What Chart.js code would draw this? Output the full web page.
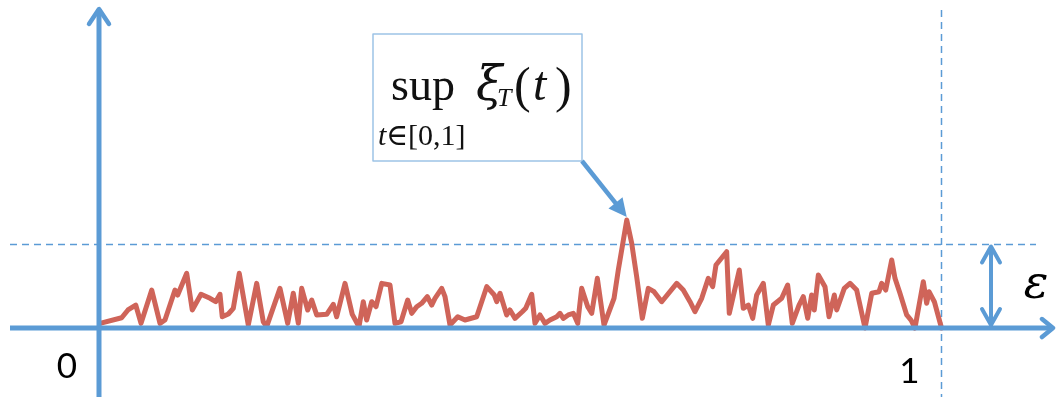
<!DOCTYPE html>
<html>
<head>
<meta charset="utf-8">
<script src="https://cdn.jsdelivr.net/npm/chart.js@4/dist/chart.umd.min.js"></script>
<style>
  html, body { margin: 0; padding: 0; background: #ffffff; overflow: hidden; }
  canvas { display: block; }
</style>
</head>
<body>
<canvas id="c" width="1056" height="397"></canvas>
<script>
// Sample path of the process xi_T(t) on t in [0, 1]
const t = [
  0.0012, 0.0269, 0.0344, 0.0436, 0.0499, 0.0626, 0.0724, 0.0783, 0.0902, 0.0934,
  0.1041, 0.1107, 0.1211, 0.1318, 0.1385, 0.1436, 0.1463, 0.1535, 0.1594, 0.1665,
  0.1772, 0.1872, 0.1950, 0.1990, 0.2148, 0.2240, 0.2306, 0.2366, 0.2406, 0.2477,
  0.2525, 0.2584, 0.2703, 0.2781, 0.2821, 0.2920, 0.3006, 0.3086, 0.3137, 0.3177,
  0.3237, 0.3288, 0.3356, 0.3454, 0.3513, 0.3585, 0.3664, 0.3712, 0.3771, 0.3830,
  0.3897, 0.3949, 0.3988, 0.4068, 0.4107, 0.4166, 0.4258, 0.4344, 0.4483, 0.4602,
  0.4692, 0.4721, 0.4760, 0.4839, 0.4878, 0.4938, 0.5024, 0.5065, 0.5136, 0.5175,
  0.5234, 0.5294, 0.5353, 0.5433, 0.5472, 0.5511, 0.5570, 0.5630, 0.5682, 0.5729,
  0.5801, 0.5848, 0.5915, 0.5994, 0.6113, 0.6164, 0.6264, 0.6323, 0.6382, 0.6449,
  0.6520, 0.6588, 0.6679, 0.6857, 0.6935, 0.7015, 0.7074, 0.7154, 0.7232, 0.7284,
  0.7323, 0.7450, 0.7481, 0.7600, 0.7647, 0.7707, 0.7759, 0.7806, 0.7885, 0.7944,
  0.8004, 0.8103, 0.8174, 0.8229, 0.8309, 0.8360, 0.8412, 0.8459, 0.8490, 0.8538,
  0.8617, 0.8665, 0.8728, 0.8756, 0.8846, 0.8914, 0.8993, 0.9092, 0.9172, 0.9258,
  0.9290, 0.9338, 0.9409, 0.9448, 0.9507, 0.9587, 0.9638, 0.9685, 0.9784, 0.9824,
  0.9852, 0.9915, 1.0000
];
const xi = [
  0.056, 0.123, 0.216, 0.275, 0.056, 0.455, 0.056, 0.096, 0.455, 0.395,
  0.655, 0.216, 0.404, 0.356, 0.315, 0.404, 0.135, 0.168, 0.236, 0.655,
  0.036, 0.535, 0.075, 0.016, 0.475, 0.056, 0.416, 0.056, 0.475, 0.216,
  0.335, 0.156, 0.164, 0.284, 0.135, 0.535, 0.164, 0.016, 0.315, 0.096,
  0.315, 0.255, 0.535, 0.515, 0.056, 0.075, 0.335, 0.176, 0.255, 0.296,
  0.375, 0.275, 0.356, 0.475, 0.375, 0.036, 0.135, 0.096, 0.135, 0.495,
  0.395, 0.315, 0.416, 0.156, 0.216, 0.116, 0.195, 0.236, 0.404, 0.056,
  0.156, 0.056, 0.096, 0.135, 0.176, 0.116, 0.156, 0.176, 0.056, 0.475,
  0.255, 0.176, 0.595, 0.036, 0.356, 0.695, 1.293, 1.014, 0.614, 0.116,
  0.475, 0.435, 0.315, 0.535, 0.455, 0.315, 0.195, 0.356, 0.595, 0.495,
  0.754, 0.914, 0.176, 0.695, 0.236, 0.275, 0.116, 0.395, 0.535, 0.036,
  0.275, 0.356, 0.515, 0.056, 0.275, 0.375, 0.116, 0.395, 0.216, 0.635,
  0.495, 0.135, 0.395, 0.216, 0.475, 0.535, 0.455, 0.000, 0.416, 0.435,
  0.535, 0.455, 0.814, 0.595, 0.416, 0.156, 0.096, 0.000, 0.555, 0.296,
  0.435, 0.315, 0.000
];

// Axis tick labels and the threshold level
const tickValues = [0, 1];
const tickLabels = ['0', '1'];
const epsilon = 1;

const BLUE = '#5b9bd5';
const RED = '#cf6459';

function line(ctx, ax, ay, bx, by) {
  ctx.beginPath();
  ctx.moveTo(ax, ay);
  ctx.lineTo(bx, by);
  ctx.stroke();
}

// open chevron head at (tx, ty) pointing along (dx, dy)
function chevron(ctx, tx, ty, dx, dy, len, half) {
  const n = Math.hypot(dx, dy);
  const ux = dx / n, uy = dy / n;
  const px = -uy, py = ux;
  ctx.beginPath();
  ctx.moveTo(tx - ux * len + px * half, ty - uy * len + py * half);
  ctx.lineTo(tx, ty);
  ctx.lineTo(tx - ux * len - px * half, ty - uy * len - py * half);
  ctx.stroke();
}

const guides = {
  id: 'guides',
  beforeDatasetsDraw(chart) {
    const ctx = chart.ctx;
    const xs = chart.scales.x, ys = chart.scales.y;
    const x1 = xs.getPixelForValue(1);
    const yE = ys.getPixelForValue(epsilon);
    ctx.save();
    ctx.strokeStyle = BLUE;
    ctx.lineWidth = 1.5;
    ctx.setLineDash([7, 5]);
    line(ctx, 10, yE, 1036, yE);
    line(ctx, x1, 10, x1, 397);
    ctx.restore();
  },
  afterDatasetsDraw(chart) {
    const ctx = chart.ctx;
    const xs = chart.scales.x, ys = chart.scales.y;
    const x0 = xs.getPixelForValue(0);
    const y0 = ys.getPixelForValue(0);
    const yE = ys.getPixelForValue(epsilon);
    ctx.save();
    ctx.strokeStyle = BLUE;
    ctx.lineCap = 'round';
    ctx.lineJoin = 'round';

    // axes
    ctx.lineWidth = 5;
    ctx.lineCap = 'butt';
    line(ctx, 10, y0, 1053, y0);
    line(ctx, x0, 397, x0, 9);
    ctx.lineCap = 'round';
    ctx.lineWidth = 4.5;
    chevron(ctx, 1053, y0, 1, 0, 11, 9);
    chevron(ctx, x0, 9, 0, -1, 15, 10);

    // epsilon marker
    const xm = 991;
    ctx.lineWidth = 4;
    ctx.lineCap = 'butt';
    line(ctx, xm, yE + 2, xm, y0 - 2);
    ctx.lineCap = 'round';
    chevron(ctx, xm, yE + 2, 0, -1, 16, 9);
    chevron(ctx, xm, y0 - 3, 0, 1, 16, 9);

    ctx.fillStyle = '#000000';
    ctx.textAlign = 'center';
    ctx.textBaseline = 'alphabetic';
    ctx.font = 'italic 46px "DejaVu Serif"';
    ctx.fillText('\u03B5', 1036, 298);

    // tick labels
    ctx.font = '35px Lato';
    ctx.textBaseline = 'middle';
    ctx.fillText(tickLabels[0], xs.getPixelForValue(tickValues[0]) - 32, 367);
    ctx.fillText(tickLabels[1], xs.getPixelForValue(tickValues[1]) - 32, 372);

    // callout pointing at the maximum of the path
    let im = 0;
    for (let i = 1; i < xi.length; i++) if (xi[i] > xi[im]) im = i;
    const px = xs.getPixelForValue(t[im]);
    const py = ys.getPixelForValue(xi[im]) - 3;
    const bx = 373, by = 34, bw = 209, bh = 127;
    ctx.lineWidth = 1.5;
    ctx.strokeStyle = '#9dc3e6';
    ctx.strokeRect(bx, by, bw, bh);

    ctx.strokeStyle = BLUE;
    ctx.fillStyle = BLUE;
    ctx.lineWidth = 4.5;
    ctx.lineCap = 'butt';
    const sx = bx + bw, sy = by + bh;
    const dx = px - sx, dy = py - sy;
    const n = Math.hypot(dx, dy);
    const ux = dx / n, uy = dy / n;
    line(ctx, sx, sy, px - ux * 14, py - uy * 14);
    ctx.beginPath();
    ctx.moveTo(px, py);
    ctx.lineTo(px - ux * 18 - uy * 9, py - uy * 18 + ux * 9);
    ctx.lineTo(px - ux * 18 + uy * 9, py - uy * 18 - ux * 9);
    ctx.closePath();
    ctx.fill();

    // formula text
    ctx.fillStyle = '#111111';
    ctx.textAlign = 'left';
    ctx.textBaseline = 'alphabetic';
    ctx.font = '46px "Liberation Serif"';
    ctx.fillText('sup', 391, 100);
    ctx.font = 'italic 48px "DejaVu Serif"';
    ctx.fillText('\u03BE', 476, 100);
    ctx.font = 'italic 26px "Liberation Serif"';
    ctx.fillText('T', 497, 106);
    ctx.font = '50px "Liberation Serif"';
    ctx.fillText('(', 514, 102);
    ctx.font = 'italic 48px "Liberation Serif"';
    ctx.fillText('t', 533, 100);
    ctx.font = '50px "Liberation Serif"';
    ctx.fillText(')', 555, 102);
    ctx.font = 'italic 30px "Liberation Serif"';
    ctx.fillText('t', 378, 145);
    ctx.font = '30px "DejaVu Serif"';
    ctx.fillText('\u2208', 386, 145);
    ctx.font = '30px "Liberation Serif"';
    ctx.fillText('[0,1]', 408, 145);
    ctx.restore();
  }
};

new Chart(document.getElementById('c'), {
  type: 'line',
  data: {
    datasets: [{
      data: t.map((v, i) => ({ x: v, y: xi[i] })),
      borderColor: RED,
      borderWidth: 5,
      borderJoinStyle: 'round',
      borderCapStyle: 'round',
      pointRadius: 0,
      tension: 0,
      fill: false
    }]
  },
  options: {
    responsive: false,
    animation: false,
    devicePixelRatio: 1,
    layout: { padding: 0 },
    scales: {
      x: { type: 'linear', display: false, min: -0.1175, max: 1.1359 },
      y: { type: 'linear', display: false, min: -0.826, max: 3.928 }
    },
    plugins: { legend: { display: false }, tooltip: { enabled: false } }
  },
  plugins: [guides]
});
</script>
</body>
</html>
